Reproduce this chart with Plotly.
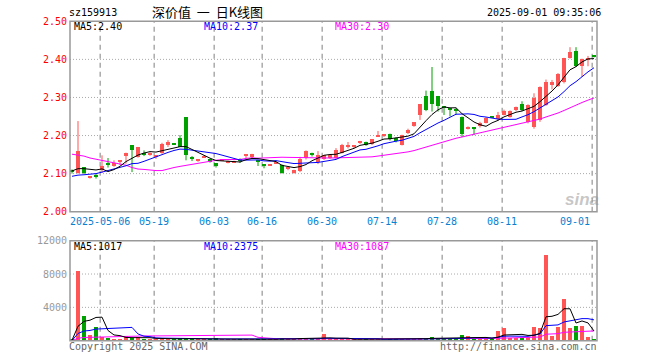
import plotly.graph_objects as go

# ---------------- data ----------------
date_ticks = ["2025-05-06", "05-19", "06-03", "06-16", "06-30", "07-14", "07-28", "08-11", "09-01"]
tick_idx = [5, 14, 24, 32, 42, 52, 62, 72, 87]

opens = [2.107, 2.102, 2.116, 2.090, 2.094, 2.109, 2.126, 2.120, 2.131, 2.146,
         2.175, 2.144, 2.154, 2.148, 2.144, 2.154, 2.174, 2.178, 2.193, 2.247,
         2.140, 2.136, 2.142, 2.138, 2.128, 2.134, 2.129, 2.131, 2.138, 2.147,
         2.142, 2.135, 2.125, 2.123, 2.127, 2.123, 2.113, 2.101, 2.105, 2.139,
         2.152, 2.131, 2.138, 2.140, 2.140, 2.154, 2.168, 2.168, 2.182, 2.183,
         2.178, 2.199, 2.202, 2.204, 2.193, 2.175, 2.206, 2.225, 2.252, 2.303,
         2.315, 2.303, 2.275, 2.272, 2.268, 2.247, 2.218, 2.221, 2.225, 2.233,
         2.250, 2.242, 2.254, 2.249, 2.265, 2.282, 2.234, 2.221, 2.240, 2.280,
         2.331, 2.330, 2.339, 2.403, 2.422, 2.382, 2.398, 2.408]
highs = [2.111, 2.238, 2.116, 2.093, 2.100, 2.148, 2.141, 2.135, 2.135, 2.155,
         2.175, 2.170, 2.161, 2.156, 2.149, 2.181, 2.188, 2.178, 2.201, 2.248,
         2.146, 2.138, 2.148, 2.139, 2.128, 2.136, 2.134, 2.134, 2.140, 2.148,
         2.152, 2.135, 2.125, 2.124, 2.131, 2.124, 2.118, 2.110, 2.144, 2.161,
         2.155, 2.159, 2.149, 2.148, 2.167, 2.178, 2.183, 2.175, 2.186, 2.184,
         2.191, 2.212, 2.203, 2.205, 2.195, 2.202, 2.218, 2.235, 2.282, 2.318,
         2.380, 2.304, 2.277, 2.273, 2.272, 2.250, 2.224, 2.222, 2.236, 2.248,
         2.251, 2.262, 2.268, 2.266, 2.276, 2.290, 2.282, 2.311, 2.329, 2.347,
         2.346, 2.364, 2.404, 2.432, 2.432, 2.402, 2.409, 2.409]
lows = [2.100, 2.100, 2.099, 2.087, 2.087, 2.102, 2.116, 2.118, 2.122, 2.126,
        2.104, 2.142, 2.146, 2.147, 2.139, 2.152, 2.170, 2.177, 2.170, 2.135,
        2.133, 2.131, 2.141, 2.129, 2.116, 2.133, 2.127, 2.130, 2.128, 2.140,
        2.141, 2.120, 2.114, 2.122, 2.127, 2.100, 2.109, 2.100, 2.104, 2.137,
        2.145, 2.125, 2.136, 2.139, 2.139, 2.153, 2.166, 2.167, 2.178, 2.173,
        2.175, 2.197, 2.196, 2.187, 2.182, 2.174, 2.204, 2.223, 2.241, 2.264,
        2.263, 2.263, 2.254, 2.250, 2.255, 2.196, 2.216, 2.201, 2.221, 2.232,
        2.248, 2.240, 2.253, 2.247, 2.264, 2.264, 2.232, 2.218, 2.236, 2.278,
        2.321, 2.328, 2.337, 2.402, 2.380, 2.354, 2.382, 2.405]
closes = [2.105, 2.159, 2.100, 2.092, 2.092, 2.119, 2.124, 2.126, 2.135, 2.154,
          2.161, 2.168, 2.152, 2.154, 2.148, 2.177, 2.182, 2.177, 2.170, 2.149,
          2.139, 2.138, 2.146, 2.131, 2.118, 2.135, 2.133, 2.133, 2.134, 2.148,
          2.151, 2.131, 2.121, 2.124, 2.131, 2.101, 2.114, 2.109, 2.137, 2.158,
          2.151, 2.148, 2.147, 2.147, 2.161, 2.175, 2.175, 2.174, 2.186, 2.175,
          2.190, 2.200, 2.203, 2.190, 2.184, 2.200, 2.215, 2.234, 2.281, 2.265,
          2.281, 2.276, 2.273, 2.268, 2.267, 2.203, 2.222, 2.218, 2.232, 2.246,
          2.249, 2.254, 2.264, 2.264, 2.275, 2.265, 2.280, 2.299, 2.326, 2.340,
          2.339, 2.362, 2.403, 2.419, 2.382, 2.400, 2.402, 2.407]
volumes = [300, 8360, 2960, 684, 1644, 480, 360, 280, 280, 564,
           360, 480, 240, 160, 160, 240, 160, 160, 400, 240,
           160, 160, 160, 160, 320, 160, 160, 160, 160, 240,
           160, 240, 160, 160, 160, 320, 160, 240, 400, 320,
           160, 240, 800, 160, 160, 160, 240, 160, 160, 160,
           160, 160, 120, 160, 160, 240, 160, 240, 320, 240,
           440, 240, 240, 240, 240, 680, 560, 240, 240, 240,
           240, 1160, 1520, 400, 400, 320, 520, 1640, 1560, 10300,
           640, 1640, 5040, 1540, 1760, 1860, 480, 200]

# moving-average values at the left edge (earlier history not shown)
ma5_head = [2.107, 2.113, 2.113, 2.111]
ma10_head = [2.093, 2.096, 2.097, 2.098, 2.100, 2.104, 2.108, 2.112, 2.118]
ma30_head = [2.151, 2.149, 2.146, 2.141, 2.138, 2.133, 2.131, 2.129, 2.125, 2.122,
             2.116, 2.112, 2.111, 2.109, 2.108, 2.108, 2.111, 2.116, 2.119, 2.122,
             2.125, 2.128, 2.130, 2.133, 2.135, 2.137, 2.137, 2.137, 2.137]

price_ticks = [2.00, 2.10, 2.20, 2.30, 2.40, 2.50]
price_tick_text = ["2.00", "2.10", "2.20", "2.30", "2.40", "2.50"]
vol_ticks = [4000, 8000, 12000]
vol_tick_text = ["4000", "8000", "12000"]

code = "sz159913"
title = "深价值\u00a0\u00a0一\u00a0\u00a0日K线图"
stamp = "2025-09-01 09:35:06"
price_ma_labels = ["MA5:2.40", "MA10:2.37", "MA30:2.30"]
vol_ma_labels = ["MA5:1017", "MA10:2375", "MA30:1087"]

# ---------------- derived ----------------
n = len(closes)
idx = list(range(n))


def price_ma(head, w):
    out = list(head)
    for i in range(len(head), n):
        out.append(sum(closes[i - w + 1:i + 1]) / w)
    return out


def vol_ma(w):
    return [sum(volumes[max(0, i - w + 1):i + 1]) / w for i in idx]


ma5 = price_ma(ma5_head, 5)
ma10 = price_ma(ma10_head, 10)
ma30 = price_ma(ma30_head, 30)

RED = "#ff5555"
GREEN = "#00a000"
W, H = 660, 360


def px(x):
    return x / W


def py(y):
    return 1 - y / H


up = [closes[i] >= opens[i] for i in idx]
colors = [RED if u else GREEN for u in up]
MINH = 0.0028

fig = go.Figure()

# candle bodies
fig.add_trace(go.Bar(
    x=idx,
    y=[max(abs(closes[i] - opens[i]), MINH) for i in idx],
    base=[min(opens[i], closes[i]) - (MINH / 2 if abs(closes[i] - opens[i]) < MINH else 0) for i in idx],
    width=0.8, marker=dict(color=colors, line=dict(width=0)),
    xaxis="x", yaxis="y", hoverinfo="skip"))

# wicks
for col, flag in ((RED, True), (GREEN, False)):
    wx, wy = [], []
    for i in idx:
        if up[i] == flag:
            wx += [i, i, None]
            wy += [lows[i], highs[i], None]
    fig.add_trace(go.Scatter(x=wx, y=wy, mode="lines", line=dict(color=col, width=1),
                             xaxis="x", yaxis="y", hoverinfo="skip"))

# price MAs
for vals, col in ((ma30, "#ff00ff"), (ma10, "#0000ff"), (ma5, "#000000")):
    fig.add_trace(go.Scatter(x=idx, y=vals, mode="lines", line=dict(color=col, width=1),
                             xaxis="x", yaxis="y", hoverinfo="skip"))

# volume bars
fig.add_trace(go.Bar(x=idx, y=volumes, width=0.8, marker=dict(color=colors, line=dict(width=0)),
                     xaxis="x2", yaxis="y2", hoverinfo="skip"))
for w, col in ((30, "#ff00ff"), (10, "#0000ff"), (5, "#000000")):
    fig.add_trace(go.Scatter(x=idx, y=vol_ma(w), mode="lines", line=dict(color=col, width=1),
                             xaxis="x2", yaxis="y2", hoverinfo="skip"))

XL, XR = 70, 597
P_TOP, P_BOT = 21.3, 211.7
V_TOP, V_BOT = 240.7, 340.7
xrange_ = [-0.333, n - 0.5]

axis_common = dict(showgrid=False, zeroline=False, showline=False, showticklabels=False,
                   ticks="", fixedrange=True)
fig.update_layout(
    width=W, height=H, margin=dict(l=0, r=0, t=0, b=0),
    paper_bgcolor="white", plot_bgcolor="white", showlegend=False,
    barmode="overlay", bargap=0,
    xaxis=dict(domain=[px(XL), px(XR)], range=xrange_, **axis_common),
    yaxis=dict(domain=[py(P_BOT), py(P_TOP)], range=[2.0, 2.5], **axis_common),
    xaxis2=dict(domain=[px(XL), px(XR)], range=xrange_, anchor="y2", **axis_common),
    yaxis2=dict(domain=[py(V_BOT), py(V_TOP)], range=[0, 12000], anchor="x2", **axis_common),
)

GRID = "#aaaaaa"
shapes = []
# horizontal dotted grids
for v in price_ticks[1:-1]:
    shapes.append(dict(type="line", xref="x domain", yref="y", x0=0, x1=1, y0=v, y1=v,
                       line=dict(color=GRID, width=1, dash="1px,2px"), layer="below"))
for v in vol_ticks[:-1]:
    shapes.append(dict(type="line", xref="x2 domain", yref="y2", x0=0, x1=1, y0=v, y1=v,
                       line=dict(color=GRID, width=1, dash="1px,2px"), layer="below"))
# vertical dashed grids
for t in tick_idx:
    for xr, yr in (("x", "y domain"), ("x2", "y2 domain")):
        shapes.append(dict(type="line", xref=xr, yref=yr, x0=t - 0.3, x1=t - 0.3, y0=0, y1=1,
                           line=dict(color=GRID, width=1.5, dash="5px,4px"), layer="below"))
# frames
for xr, yr in (("x domain", "y domain"), ("x2 domain", "y2 domain")):
    shapes.append(dict(type="rect", xref=xr, yref=yr, x0=0, x1=1, y0=0, y1=1,
                       line=dict(color="#999999", width=1.5), layer="above"))
fig.update_layout(shapes=shapes)

MONO = "DejaVu Sans Mono"
ann = []


def text(x, y, s, color="#000000", size=10, anchor="left", family=MONO, xref="paper", yref="paper"):
    ann.append(dict(x=x, y=y, xref=xref, yref=yref, text=s, showarrow=False,
                    xanchor=anchor, yanchor="middle", borderpad=0,
                    font=dict(family=family, size=size, color=color)))


# header
text(px(68), py(12.5), code, size=10)
text(px(207), py(11.5), title, size=13, anchor="center", family="Noto Sans CJK SC")
text(px(602), py(12.5), stamp, size=10, anchor="right")
# price tick labels
for v, s in zip(price_ticks, price_tick_text):
    text(px(67.5), v, s, color="#ff0000", anchor="right", yref="y")
for v, s in zip(vol_ticks, vol_tick_text):
    text(px(67.5), v, s, color="#999999", anchor="right", yref="y2")
# date labels
for k, (t, s) in enumerate(zip(tick_idx, date_ticks)):
    last = k == len(tick_idx) - 1
    ann.append(dict(x=t - 0.3, y=py(221), xref="x", yref="paper", text=s, showarrow=False,
                    xanchor="right" if last else "center", yanchor="middle",
                    xshift=-1 if last else 0, borderpad=0,
                    font=dict(family=MONO, size=10, color="#0a80d0")))
# MA legends
for xx, s, col in zip((73, 203, 334), price_ma_labels, ("#000000", "#0000ff", "#ff00ff")):
    text(px(xx), py(26.5), s, color=col)
for xx, s, col in zip((73, 203, 334), vol_ma_labels, ("#000000", "#0000ff", "#ff00ff")):
    text(px(xx), py(246.5), s, color=col)
# footer
text(px(68), py(346), "Copyright 2025 SINA.COM", color="#666666")
text(px(598), py(346), "http://finance.sina.com.cn", color="#666666", anchor="right")
# watermark
text(px(582), py(199), "<b><i>sina</i></b>", color="rgba(150,150,150,0.55)", size=17,
     anchor="center", family="Liberation Sans")
fig.update_layout(annotations=ann)

fig.write_html("out.html", config={"displayModeBar": False},
               post_script="document.body.style.margin='0';")
